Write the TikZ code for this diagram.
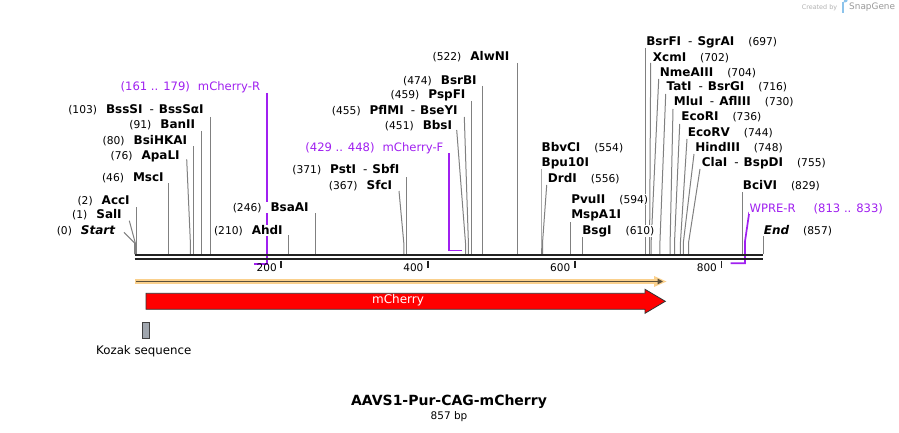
\documentclass[tikz,border=0pt]{standalone}
\usepackage{fontspec}
\setmainfont{DejaVu Sans}
\usetikzlibrary{arrows.meta}
\definecolor{primer}{RGB}{160,32,240}
\definecolor{cutline}{RGB}{128,128,128}
\definecolor{bb}{RGB}{34,34,34}
\definecolor{orfc}{RGB}{250,208,140}
\definecolor{orfline}{RGB}{90,80,60}
\definecolor{kozakc}{RGB}{160,166,174}
\definecolor{logoc}{RGB}{140,195,235}
\pgfdeclarelayer{bg}
\pgfsetlayers{bg,main}
\newcommand\numf{\fontsize{10.7}{12}\selectfont\mdseries}
\newcommand\namf{\fontsize{12}{14}\selectfont\bfseries}
\newcommand\hy{\hspace{7pt}{\mdseries -}\hspace{5pt}}
\tikzset{
  lab/.style={inner sep=0.4pt, fill=white},
  prl/.style={font=\fontsize{11.6}{13}\selectfont, text=primer, inner sep=0.4pt, fill=white},
  cut/.style={draw=cutline, line width=1pt},
  prline/.style={draw=primer, line width=1.7pt},
  backbone/.style={draw=bb, line width=2.4pt},
  tick/.style={draw=bb, line width=1.9pt},
  ticklab/.style={font=\fontsize{10.5}{12}\selectfont, inner sep=0pt},
}
% left-side label: id, number, name, right x, centre y, line top x, line top y, site x
\newcommand\enzL[8]{%
  \node[lab, anchor=base east] (#1) at (#4,#5+4.3) {{\numf #2}\hspace{9pt}{\namf #3}};
  \coordinate (#1t) at (#6,#7);
  \coordinate (#1b) at (#8,243);
  \coordinate (#1e) at (#8,254.2);
  \begin{pgfonlayer}{bg}\draw[cut] (#1t) -- (#1b) -- (#1e);\end{pgfonlayer}
}
% right-side label: id, number, name, left x, centre y, line top x, line top y, site x
\newcommand\enzR[8]{%
  \node[lab, anchor=base west] (#1) at (#4,#5+4.3) {{\namf #3}\hspace{14pt}{\numf #2}};
  \coordinate (#1t) at (#6,#7);
  \coordinate (#1b) at (#8,243);
  \coordinate (#1e) at (#8,254.2);
  \begin{pgfonlayer}{bg}\draw[cut] (#1t) -- (#1b) -- (#1e);\end{pgfonlayer}
}
\begin{document}
\begin{tikzpicture}[x=1pt,y=-1pt]
\useasboundingbox (0,0) rectangle (899,433);
\begin{pgfonlayer}{bg}
\fill[white] (0,0) rectangle (899,433);
\end{pgfonlayer}

% watermark
\node[anchor=west, inner sep=0pt, font=\fontsize{6.4}{8}\selectfont, text=black!30] (wm1) at (801.7,7.5) {Created by};
\fill[logoc] (842,2.5) rectangle (844,13);
\fill[logoc] (842,2.5) -- (845,2.5) arc[start angle=90, end angle=-90, radius=2.8] -- (842,8.1) -- cycle;
\node[anchor=west, inner sep=0pt, font=\fontsize{8.9}{10}\selectfont, text=black!40] (wm2) at (849,7.5) {SnapGene};

% backbone
\coordinate (bbA1) at (134.6,255.2); \coordinate (bbB1) at (763.3,255.2);
\coordinate (bbA2) at (134.6,259.2); \coordinate (bbB2) at (763.3,259.2);
\draw[backbone] (bbA1) -- (bbB1);
\draw[backbone] (bbA2) -- (bbB2);

% ticks
\foreach \t/\x in {200/281.3,400/428,600/574.8,800/721.5}{
  \coordinate (tk\t a) at (\x,260.6);
  \coordinate (tk\t b) at (\x,267.6);
  \draw[tick] (tk\t a) -- (tk\t b);
  \node[ticklab] (tl\t) at (\x-14.6,267.5) {\t};
}

% enzymes, left labels
\enzL{start}{(0)}{\itshape Start}{115.7}{230}{124}{232.3}{134.6}
\enzL{sal}{(1)}{SalI}{122.3}{214.3}{129.3}{220.7}{135.3}
\enzL{acc}{(2)}{AccI}{130.3}{200}{136.1}{207}{136.1}
\enzL{msc}{(46)}{MscI}{164.3}{176.7}{168.9}{183}{168.9}
\enzL{apa}{(76)}{ApaLI}{180.3}{155}{186.7}{159.3}{190.4}
\enzL{bsi}{(80)}{BsiHKAI}{187.7}{140}{193.3}{146}{193.3}
\enzL{ban}{(91)}{BanII}{195.7}{124.3}{201.4}{131}{201.4}
\enzL{bss}{(103)}{BssSI\hy BssSαI}{204.3}{109.3}{210.2}{117}{210.2}
\enzL{ahd}{(210)}{AhdI}{283.3}{230}{288.7}{235}{288.7}
\enzL{bsaa}{(246)}{BsaAI}{309.3}{206.7}{315.1}{213}{315.1}
\enzL{sfc}{(367)}{SfcI}{392.7}{185}{399}{191}{403.8}
\enzL{pst}{(371)}{PstI\hy SbfI}{400}{169.3}{406.8}{177}{406.8}
\enzL{bbs}{(451)}{BbsI}{452.7}{125}{456.7}{130}{465.5}
\enzL{pfl}{(455)}{PflMI\hy BseYI}{458.3}{110}{464.3}{117}{468.4}
\enzL{psp}{(459)}{PspFI}{466}{94.3}{471.3}{101}{471.3}
\enzL{bsrb}{(474)}{BsrBI}{477.3}{80}{482.3}{86}{482.3}
\enzL{alw}{(522)}{AlwNI}{510}{56.7}{517.5}{63}{517.5}

% enzymes, right labels
\enzR{bbv}{(554)}{BbvCI}{541}{147.3}{541}{169}{541}
\node[lab, anchor=base west, font=\namf] (bpu) at (541,161.7+4.3) {Bpu10I};
\enzR{drd}{(556)}{DrdI}{547.3}{177.7}{546.7}{185}{542.5}
\enzR{pvu}{(594)}{PvuII}{570.7}{199}{570.4}{222}{570.4}
\node[lab, anchor=base west, font=\namf] (msp) at (570.7,214.3+4.3) {MspA1I};
\enzR{bsg}{(610)}{BsgI}{581.7}{229.7}{582.1}{236}{582.1}
\enzR{bsrf}{(697)}{BsrFI\hy SgrAI}{645.7}{41.7}{645.9}{48}{645.9}
\enzR{xcm}{(702)}{XcmI}{652.3}{57.3}{650.7}{63}{649.6}
\enzR{nme}{(704)}{NmeAIII}{659.3}{72.3}{658.7}{79}{651.1}
\enzR{tat}{(716)}{TatI\hy BsrGI}{666}{86.7}{665.7}{94}{659.9}
\enzR{mlu}{(730)}{MluI\hy AflIII}{673.3}{101.7}{673}{109}{670.1}
\enzR{ecori}{(736)}{EcoRI}{680.7}{116.7}{679.7}{124}{674.5}
\enzR{ecorv}{(744)}{EcoRV}{687.3}{131.7}{687}{139}{680.4}
\enzR{hind}{(748)}{HindIII}{694.7}{146.7}{694}{154}{683.3}
\enzR{cla}{(755)}{ClaI\hy BspDI}{701.3}{161.7}{700}{169}{688.5}
\enzR{bci}{(829)}{BciVI}{742.3}{185}{742.8}{192}{742.8}
\enzR{endl}{(857)}{\itshape End}{763.3}{230}{763.3}{236}{763.3}

% primers
\node[prl, anchor=base east] (prR) at (260.7,86.7+4.3) {(161 .. 179)\hspace{8pt}mCherry-R};
\coordinate (prRt) at (266.7,93); \coordinate (prRb) at (266.7,263.7); \coordinate (prRe) at (253.6,263.7);
\begin{pgfonlayer}{bg}\draw[prline] (prRt) -- (prRb) -- (prRe);\end{pgfonlayer}

\node[prl, anchor=base east] (prF) at (444,146.7+4.3) {(429 .. 448)\hspace{8pt}mCherry-F};
\coordinate (prFt) at (448.7,153); \coordinate (prFb) at (448.7,250.5); \coordinate (prFe) at (461.7,250.5);
\begin{pgfonlayer}{bg}\draw[prline] (prFt) -- (prFb) -- (prFe);\end{pgfonlayer}

\node[prl, anchor=base west] (prW) at (749,207.7+4.3) {WPRE-R\hspace{18pt}(813 .. 833)};
\coordinate (prWt) at (749.3,212); \coordinate (prWm) at (744.9,242); \coordinate (prWb) at (744.9,263.3); \coordinate (prWe) at (730.6,263.3);
\begin{pgfonlayer}{bg}\draw[prline] (prWt) -- (prWm) -- (prWb) -- (prWe);\end{pgfonlayer}

% ORF
\coordinate (orfA) at (135,281.5); \coordinate (orfB) at (658,281.5);
\draw[orfc, line width=5.5pt] (orfA) -- (orfB);
\fill[orfc] (654,276) -- (666.5,281.5) -- (654,287) -- cycle;
\coordinate (orfC) at (136,281.5); \coordinate (orfD) at (663,281.5);
\draw[orfline, line width=1.5pt, -{Triangle[length=5.5pt,width=5.5pt]}] (orfC) -- (orfD);

% mCherry feature
\draw[fill=red, draw=black!80, line width=0.8pt] (146,293.3) -- (645,293.3) -- (645,289.3) -- (665.3,301.3) -- (645,313.3) -- (645,309.3) -- (146,309.3) -- cycle;
\node[text=white, font=\fontsize{12}{14}\selectfont, inner sep=0pt] (mch) at (398,300.6) {mCherry};

% Kozak
\draw[fill=kozakc, draw=black!75, line width=0.7pt] (142.3,322.3) rectangle (149.3,338.3);
\node[font=\fontsize{11.8}{13}\selectfont, inner sep=0pt] (koz) at (143.8,351.7) {Kozak sequence};

% title
\node[font=\fontsize{14}{16}\selectfont\bfseries, inner sep=0pt] (title) at (449,401.7) {AAVS1-Pur-CAG-mCherry};
\node[font=\fontsize{10.5}{12}\selectfont, inner sep=0pt] (bp) at (449,417) {857 bp};
\end{tikzpicture}
\end{document}
